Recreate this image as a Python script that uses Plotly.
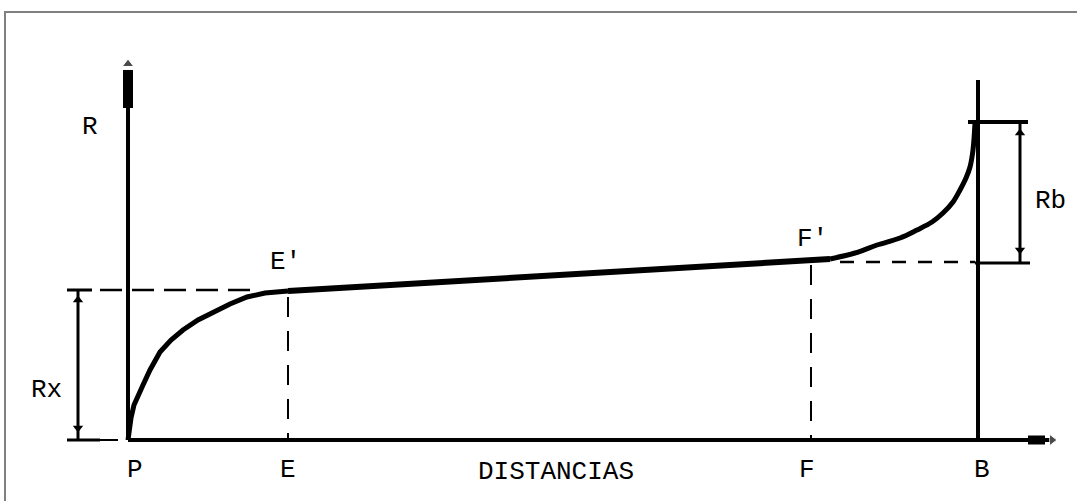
import plotly.graph_objects as go

# schematic coordinates (x = distance, y = resistance, screen-like units)
curve_p_x = [128, 129, 131, 134, 138, 143, 150, 160, 171, 183, 198, 213, 230, 247, 265, 288]
curve_p_y = [440, 430, 418, 405, 395, 385, 370, 352, 340, 330, 320, 312, 304, 297, 293, 291]

plateau_x = [288, 830]
plateau_y = [291, 259]

curve_b_x = [830, 855, 877, 900, 917, 932, 943, 953, 960, 966, 970, 973, 975]
curve_b_y = [259, 253, 245, 238, 230, 222, 213, 202, 190, 178, 167, 150, 123]

labels = ["R", "Rx", "P", "E", "DISTANCIAS", "F", "B", "E'", "F'", "Rb"]
label_x = [90, 46, 135, 288, 556, 807, 982, 285, 812, 1050]
label_y = [127, 390, 470, 470, 472, 470, 470, 262, 239, 201]

fig = go.Figure()

def seg(x, y, w, dash=None, color="black", shape="linear"):
    fig.add_trace(go.Scatter(x=x, y=y, mode="lines", hoverinfo="skip",
                             line=dict(color=color, width=w, dash=dash, shape=shape)))

# frame
seg([5, 5, 1200], [600, 12, 12], 2, color="#808080")

# axes
seg([128, 128], [440, 70], 4)
seg([128, 128], [70, 108], 10)
seg([128, 1050], [440, 440], 4)
seg([1028, 1045], [440, 440], 9)
fig.add_trace(go.Scatter(x=[128, 1052], y=[64, 440], mode="markers", hoverinfo="skip",
                         marker=dict(symbol=["triangle-up", "triangle-right"], size=[10, 10], color="black")))

# B line
seg([978, 978], [80, 440], 4)

# dashed guides
seg([100, 250], [290, 290], 2.5, dash="22px,10px")
seg([288, 288], [297, 440], 2, dash="20px,14px")
seg([811, 811], [265, 440], 2, dash="20px,14px")
seg([840, 975], [262, 262], 2.5, dash="14px,12px")
seg([100, 118], [440, 440], 2)

# Rx dimension
seg([67, 92], [290, 290], 3)
seg([67, 100], [440, 440], 3)
seg([78, 78], [290, 440], 3)
fig.add_trace(go.Scatter(x=[78, 78], y=[300, 428], mode="markers", hoverinfo="skip",
                         marker=dict(symbol=["triangle-up", "triangle-down"], size=9, color="black")))

# Rb dimension
seg([968, 1028], [122, 122], 4)
seg([975, 1030], [263, 263], 3)
seg([1020, 1020], [122, 263], 3)
fig.add_trace(go.Scatter(x=[1020, 1020], y=[133, 250], mode="markers", hoverinfo="skip",
                         marker=dict(symbol=["triangle-up", "triangle-down"], size=9, color="black")))

# resistance curve
seg(curve_p_x, curve_p_y, 5)
seg(plateau_x, plateau_y, 6)
seg(curve_b_x, curve_b_y, 5, shape="spline")

for t, x, y in zip(labels, label_x, label_y):
    fig.add_annotation(x=x, y=y, text=t, showarrow=False,
                       font=dict(family="Liberation Mono", size=26, color="black"))

fig.update_layout(
    width=1077, height=501,
    margin=dict(l=0, r=0, t=0, b=0),
    showlegend=False,
    plot_bgcolor="white", paper_bgcolor="white",
    xaxis=dict(range=[0, 1077], visible=False, fixedrange=True),
    yaxis=dict(range=[501, 0], visible=False, fixedrange=True),
)

# drop the default 8px body margin so the figure sits at the page corner
fig.write_html("out.html", config={"displayModeBar": False},
               post_script="document.body.style.margin='0';document.body.style.overflow='hidden';")
